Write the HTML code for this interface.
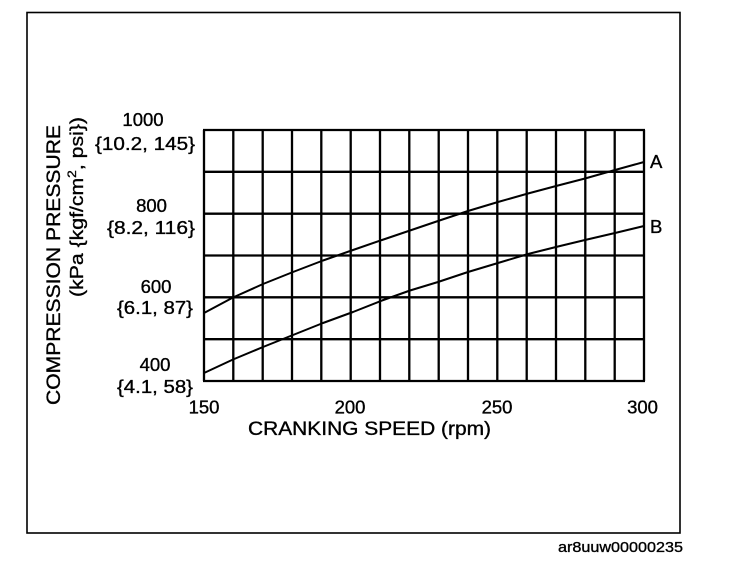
<!DOCTYPE html>
<html>
<head>
<meta charset="utf-8">
<style>
html,body{margin:0;padding:0;background:#fff;}
svg{display:block;}
text{font-family:"Liberation Sans",Arial,sans-serif;fill:#000;stroke:#000;stroke-width:0.35;}
</style>
</head>
<body>
<svg width="736" height="568" viewBox="0 0 736 568" xmlns="http://www.w3.org/2000/svg">
<rect x="0" y="0" width="736" height="568" fill="#fff"/>
<!-- outer frame -->
<rect x="27" y="12.5" width="653" height="520.5" fill="none" stroke="#000" stroke-width="1.6"/>

<!-- grid -->
<g stroke="#000" stroke-width="2.3" fill="none">
<line x1="204" y1="130" x2="204" y2="381"/>
<line x1="233.3" y1="130" x2="233.3" y2="381"/>
<line x1="262.7" y1="130" x2="262.7" y2="381"/>
<line x1="292" y1="130" x2="292" y2="381"/>
<line x1="321.3" y1="130" x2="321.3" y2="381"/>
<line x1="350.7" y1="130" x2="350.7" y2="381"/>
<line x1="380" y1="130" x2="380" y2="381"/>
<line x1="409.3" y1="130" x2="409.3" y2="381"/>
<line x1="438.7" y1="130" x2="438.7" y2="381"/>
<line x1="468" y1="130" x2="468" y2="381"/>
<line x1="497.3" y1="130" x2="497.3" y2="381"/>
<line x1="526.7" y1="130" x2="526.7" y2="381"/>
<line x1="556" y1="130" x2="556" y2="381"/>
<line x1="585.3" y1="130" x2="585.3" y2="381"/>
<line x1="614.7" y1="130" x2="614.7" y2="381"/>
<line x1="644" y1="130" x2="644" y2="381"/>
<line x1="203" y1="130" x2="645" y2="130"/>
<line x1="203" y1="171.8" x2="645" y2="171.8"/>
<line x1="203" y1="213.7" x2="645" y2="213.7"/>
<line x1="203" y1="255.5" x2="645" y2="255.5"/>
<line x1="203" y1="297.3" x2="645" y2="297.3"/>
<line x1="203" y1="339.2" x2="645" y2="339.2"/>
<line x1="203" y1="381" x2="645" y2="381"/>
</g>

<!-- curves -->
<g stroke="#000" stroke-width="2" fill="none" stroke-linejoin="round">
<polyline points="204,313 233,297.5 263,284 293,272 323,260.5 353,250 382,240 410,230.5 438,221 468,211 498,202 528,193.5 558,185.5 585,178.5 615,170 644,162"/>
<polyline points="204,373 233,359.5 263,347 293,335 323,323 353,312 382,300.5 410,290.5 438,282 468,272 498,263 528,254 558,246.5 585,240 615,233 644,226"/>
</g>

<!-- curve labels -->
<text x="650" y="168" font-size="18.5">A</text>
<text x="650" y="233" font-size="18.5">B</text>

<!-- y tick labels -->
<text x="143" y="126" font-size="18.5" text-anchor="middle">1000</text>
<text x="95" y="150" font-size="18.5" textLength="100" lengthAdjust="spacingAndGlyphs">{10.2, 145}</text>
<text x="151.5" y="212" font-size="18.5" text-anchor="middle">800</text>
<text x="107" y="234" font-size="18.5" textLength="88" lengthAdjust="spacingAndGlyphs">{8.2, 116}</text>
<text x="156" y="293" font-size="18.5" text-anchor="middle">600</text>
<text x="117" y="314" font-size="18.5" textLength="76" lengthAdjust="spacingAndGlyphs">{6.1, 87}</text>
<text x="155" y="371" font-size="18.5" text-anchor="middle">400</text>
<text x="117" y="393" font-size="18.5" textLength="76" lengthAdjust="spacingAndGlyphs">{4.1, 58}</text>

<!-- x tick labels -->
<text x="204" y="413.5" font-size="18.5" text-anchor="middle">150</text>
<text x="350" y="413.5" font-size="18.5" text-anchor="middle">200</text>
<text x="497" y="413.5" font-size="18.5" text-anchor="middle">250</text>
<text x="642.5" y="413.5" font-size="18.5" text-anchor="middle">300</text>

<!-- x title -->
<text x="248" y="435" font-size="19" textLength="243" lengthAdjust="spacingAndGlyphs">CRANKING SPEED (rpm)</text>

<!-- y title -->
<text transform="translate(60,405) rotate(-90)" font-size="19" textLength="280" lengthAdjust="spacingAndGlyphs">COMPRESSION PRESSURE</text>
<text transform="translate(83,297) rotate(-90)" font-size="18.5" textLength="180" lengthAdjust="spacingAndGlyphs">(kPa {kgf/cm<tspan font-size="12" dy="-7">2</tspan><tspan dy="7">, psi})</tspan></text>

<!-- footer -->
<text x="558" y="552" font-size="15" textLength="125" lengthAdjust="spacingAndGlyphs" stroke-width="0.2">ar8uuw00000235</text>
</svg>
</body>
</html>
